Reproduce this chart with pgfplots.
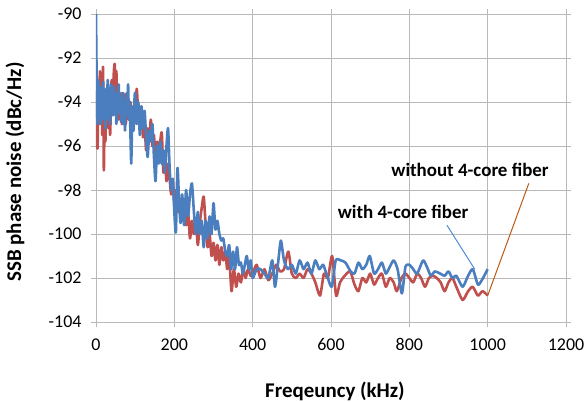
\documentclass[border=0pt]{standalone}
\usepackage{pgfplots}
\pgfplotsset{compat=1.18}
\usepackage{fontspec}
\setmainfont{Carlito}
\definecolor{myred}{RGB}{192,80,77}
\definecolor{myblue}{RGB}{74,126,190}
\definecolor{gridc}{RGB}{185,185,185}
\definecolor{annor}{RGB}{185,90,20}
\definecolor{annob}{RGB}{80,140,210}
\pgfplotstableread{
x y
0 -93.5
2 -95.5
4 -96.1
6 -94.0
8 -95.0
10 -92.6
12 -94.5
14 -93.2
16 -95.5
18 -92.4
20 -97.1
22 -94.5
24 -95.8
26 -93.5
28 -94.8
30 -93.8
32 -95.2
34 -94.0
36 -95.5
38 -94.2
40 -93.0
42 -94.6
44 -93.3
46 -92.5
48 -92.3
50 -93.6
52 -92.6
54 -94.2
56 -93.4
58 -94.8
60 -93.8
62 -94.5
64 -93.6
66 -95.0
68 -94.2
70 -93.6
72 -94.8
74 -94.0
76 -95.0
78 -94.4
80 -93.9
84 -94.8
88 -94.0
92 -95.2
96 -94.3
100 -94.8
104 -93.4
108 -94.6
112 -95.0
116 -94.2
120 -95.6
124 -95.0
128 -96.2
132 -95.2
136 -95.8
140 -94.8
144 -96.0
148 -95.5
152 -96.8
156 -95.8
160 -96.5
164 -95.8
168 -95.4
172 -97.2
176 -96.6
180 -97.6
184 -96.8
188 -97.5
192 -98.2
196 -97.6
200 -98.6
205 -98.0
210 -99.0
215 -98.4
220 -99.2
225 -98.6
230 -99.6
235 -99.0
240 -100.2
245 -99.4
250 -100.0
255 -99.4
260 -100.5
265 -99.5
270 -98.8
275 -98.3
280 -99.6
285 -100.6
290 -100.0
295 -101.0
300 -100.4
305 -101.2
310 -100.5
315 -101.4
320 -100.6
325 -101.2
330 -100.8
335 -101.6
340 -101.0
346 -102.6
352 -101.6
358 -102.4
364 -101.8
370 -102.2
376 -101.6
382 -102.0
388 -101.6
395 -101.9
400 -101.8
410 -101.4
420 -102.0
430 -101.6
440 -102.1
450 -101.8
460 -101.4
470 -101.7
480 -101.6
491 -100.8
500 -101.8
510 -102.0
520 -101.8
530 -102.0
540 -101.6
550 -101.8
560 -102.2
572 -102.8
582 -101.8
592 -102.0
603 -101.0
613 -102.8
623 -102.2
635 -101.9
649 -101.7
660 -102.3
670 -102.6
680 -102.0
690 -102.2
700 -101.8
710 -102.3
720 -102.0
730 -101.8
740 -102.4
750 -102.0
760 -102.2
768 -102.6
780 -102.0
790 -101.8
800 -102.0
810 -102.2
820 -101.8
830 -102.0
840 -102.4
850 -102.0
860 -101.9
870 -102.0
880 -102.2
890 -102.6
900 -102.2
910 -102.0
920 -102.4
936 -103.0
950 -102.6
962 -102.4
975 -102.8
987 -102.6
1000 -102.8
}\redtab
\pgfplotstableread{
x y
0 -90.0
2 -93.5
4 -95.0
6 -93.0
8 -94.5
10 -93.3
12 -95.0
14 -93.8
16 -94.6
18 -93.1
20 -94.8
22 -93.5
24 -95.2
26 -93.4
28 -94.2
30 -93.0
32 -94.8
34 -93.6
36 -95.0
38 -93.2
40 -94.1
42 -93.4
44 -94.6
46 -93.3
48 -94.4
50 -93.8
52 -95.0
54 -93.6
56 -94.2
58 -93.2
60 -94.5
62 -93.8
64 -94.9
66 -94.0
68 -93.6
70 -95.0
72 -94.0
74 -95.3
76 -94.2
78 -93.6
80 -94.5
82 -93.2
84 -94.8
86 -94.0
88 -95.5
90 -96.8
92 -95.0
94 -94.2
96 -95.3
98 -94.0
100 -93.6
104 -95.0
108 -94.0
112 -95.5
116 -94.2
120 -95.2
124 -94.4
128 -95.6
132 -96.5
136 -95.3
140 -95.8
144 -95.0
148 -96.5
152 -97.6
156 -96.0
160 -96.8
164 -95.8
168 -96.8
172 -96.2
176 -97.2
180 -96.0
184 -95.2
188 -97.0
192 -98.0
196 -97.5
200 -99.0
204 -99.9
208 -97.0
212 -98.5
216 -99.5
220 -98.2
225 -99.6
230 -98.0
235 -99.2
240 -98.2
245 -97.7
250 -99.0
255 -100.0
260 -99.0
265 -100.0
270 -99.4
275 -100.6
280 -99.4
285 -100.2
290 -99.2
295 -100.0
300 -98.6
305 -99.8
310 -99.4
315 -100.0
320 -100.3
325 -100.2
330 -100.8
335 -101.0
340 -100.5
345 -101.6
350 -100.8
355 -101.6
360 -100.6
365 -101.4
370 -101.3
375 -101.8
380 -101.4
385 -101.0
390 -101.6
395 -101.2
400 -102.0
410 -101.6
420 -101.6
430 -101.8
440 -102.0
450 -101.2
457 -102.4
465 -101.3
472 -100.3
480 -101.2
490 -101.6
500 -101.4
510 -101.8
520 -101.2
530 -101.6
540 -101.3
550 -101.8
560 -101.2
570 -101.6
580 -101.4
590 -101.9
602 -102.4
612 -101.2
625 -101.2
637 -101.3
650 -101.7
660 -101.8
670 -101.3
680 -101.6
690 -101.4
699 -101.0
710 -101.8
720 -101.6
730 -101.3
740 -101.8
750 -101.5
760 -101.2
770 -101.6
781 -102.7
790 -101.5
800 -101.4
810 -101.6
820 -101.8
835 -101.2
845 -101.5
855 -101.9
865 -101.7
879 -101.8
890 -101.9
900 -101.7
910 -102.0
920 -101.9
936 -102.4
950 -101.9
962 -101.6
975 -102.3
985 -102.1
1000 -101.6
}\bluetab
\begin{document}
\begin{tikzpicture}
\begin{axis}[
  at={(0,0)}, anchor=south west,
  scale only axis, width=470bp, height=308bp,
  xmin=0, xmax=1200, ymin=-104, ymax=-90,
  xtick={0,200,400,600,800,1000,1200},
  xticklabels={0,200,400,600,800,1000,1200},
  ytick={-104,-102,-100,-98,-96,-94,-92,-90},
  yticklabels={-104,-102,-100,-98,-96,-94,-92,-90},
  grid=major, grid style={gridc, line width=0.9pt},
  axis line style={gridc, line width=0.9pt},
  tick style={gridc, line width=0.9pt},
  tick align=outside, major tick length=5bp,
  ticklabel style={font=\fontsize{18}{21}\selectfont},
  xticklabel style={yshift=-8bp},
  yticklabel style={xshift=-6bp},
  xlabel={Freqeuncy (kHz)},
  ylabel={SSB phase noise (dBc/Hz)},
  every axis x label/.style={at={(axis description cs:0.5,0)}, yshift=-69bp, xshift=4bp, anchor=center, font=\fontsize{21}{24}\selectfont\bfseries},
  every axis y label/.style={at={(axis description cs:0,0.5)}, xshift=-81bp, yshift=-4bp, rotate=90, anchor=center, font=\fontsize{21}{24}\selectfont\bfseries},
]
\addplot[myred, line width=2.6bp, smooth, tension=0.4, line join=round] table[x=x,y=y] {\redtab};
\addplot[myblue, line width=2.6bp, smooth, tension=0.4, line join=round] table[x=x,y=y] {\bluetab};
\addplot[annor, line width=1bp] coordinates {(1000,-102.8) (1105,-97.7)};
\addplot[annob, line width=1bp] coordinates {(896,-99.6) (967,-101.6)};
\node[font=\fontsize{19}{22}\selectfont\bfseries] at (axis cs:955,-97.1) {without 4-core fiber};
\node[font=\fontsize{19}{22}\selectfont\bfseries] at (axis cs:784,-99.0) {with 4-core fiber};
\end{axis}
\pgfresetboundingbox
\path (-96bp,-80bp) rectangle (491bp,322bp);
\end{tikzpicture}
\end{document}
